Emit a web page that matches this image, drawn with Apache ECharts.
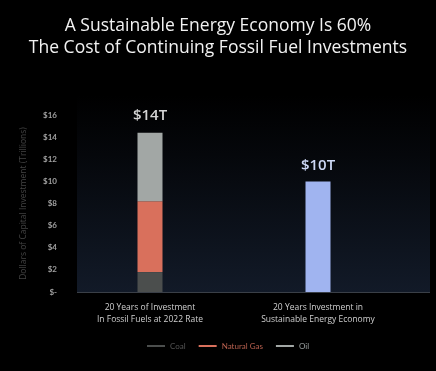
<!DOCTYPE html>
<html><head><meta charset="utf-8">
<script src="https://cdn.jsdelivr.net/npm/echarts@6/dist/echarts.min.js"></script>
<style>html,body{margin:0;padding:0;background:#000;}#c{width:436px;height:371px;}</style>
</head><body><div id="c"></div>
<script>
const categories = ['20 Years of Investment\nIn Fossil Fuels at 2022 Rate', '20 Years Investment in\nSustainable Energy Economy'];
const coal = [1.8, '-'];
const naturalGas = [6.4, '-'];
const oil = [6.2, '-'];
const sustainable = ['-', 10];
const yTicks = [0, 2, 4, 6, 8, 10, 12, 14, 16];

const fossilTotal = coal[0] + naturalGas[0] + oil[0];
const chart = echarts.init(document.getElementById('c'));
const F = 'Lato, "Open Sans", sans-serif';
const T = '"Open Sans", Lato, sans-serif';
chart.setOption({
  backgroundColor: '#000',
  animation: false,
  title: {
    text: 'A Sustainable Energy Economy Is 60%\nThe Cost of Continuing Fossil Fuel Investments',
    left: 'center', top: 10,
    textStyle: { color: '#f2f2f2', fontSize: 17.5, fontWeight: 'normal', fontFamily: T, lineHeight: 22 }
  },
  graphic: [
    { type: 'rect', z: -10, shape: { x: 77, y: 95, width: 353, height: 198 },
      style: { fill: new echarts.graphic.LinearGradient(0, 0, 0, 1, [
        { offset: 0, color: '#000000' }, { offset: 0.3, color: '#05070b' }, { offset: 1, color: '#121a28' }]) } },
    { type: 'line', z: 5, shape: { x1: 77, y1: 292.5, x2: 430, y2: 292.5 },
      style: { stroke: '#3a3f47', lineWidth: 1 } }
  ],
  legend: {
    bottom: 16, left: 142, itemWidth: 18, itemHeight: 2, itemGap: 13, icon: 'rect',
    textStyle: { fontSize: 8, fontFamily: F },
    data: [
      { name: 'Coal', textStyle: { color: '#555' } },
      { name: 'Natural Gas', textStyle: { color: '#b8604f' } },
      { name: 'Oil', textStyle: { color: '#9aa0a0' } }
    ]
  },
  grid: { left: 66, right: 34, top: 115, bottom: 79 },
  xAxis: {
    type: 'category', data: categories,
    axisLine: { show: false }, axisTick: { show: false },
    axisLabel: { color: '#cfcfcf', fontSize: 8.5, fontFamily: T, margin: 10, lineHeight: 11.5, interval: 0 }
  },
  yAxis: {
    type: 'value', min: 0, max: 16, interval: 2,
    name: 'Dollars of Capital Investment (Trillions)', nameLocation: 'middle', nameGap: 38,
    nameTextStyle: { color: '#444', fontSize: 8.5, fontFamily: T },
    splitLine: { show: false }, axisLine: { show: false }, axisTick: { show: false },
    axisLabel: { color: '#a0a0a0', fontSize: 8, fontWeight: 'bold', fontFamily: F, margin: 9,
      formatter: v => yTicks.includes(v) ? (v === 0 ? '$-' : '$' + v) : '' }
  },
  series: [
    { name: 'Coal', type: 'bar', stack: 'fossil', data: coal, barWidth: 25, barGap: '-100%',
      itemStyle: { color: '#4b4e4d' } },
    { name: 'Natural Gas', type: 'bar', stack: 'fossil', data: naturalGas, barWidth: 25, barGap: '-100%',
      itemStyle: { color: '#d9705c' } },
    { name: 'Oil', type: 'bar', stack: 'fossil', data: oil, barWidth: 25, barGap: '-100%',
      itemStyle: { color: '#a2a7a5' },
      label: { show: true, position: 'top', distance: 9, color: '#d4d4d4', fontSize: 15, fontWeight: 600, fontFamily: T,
        formatter: () => '$' + Math.round(fossilTotal) + 'T' } },
    { name: 'Sustainable', type: 'bar', stack: 'green', data: sustainable, barWidth: 25, barGap: '-100%',
      itemStyle: { color: '#a0b4f0' },
      label: { show: true, position: 'top', distance: 8, color: '#cdd8f5', fontSize: 15, fontWeight: 600, fontFamily: T,
        formatter: p => '$' + p.value + 'T' } }
  ]
});
</script></body></html>
